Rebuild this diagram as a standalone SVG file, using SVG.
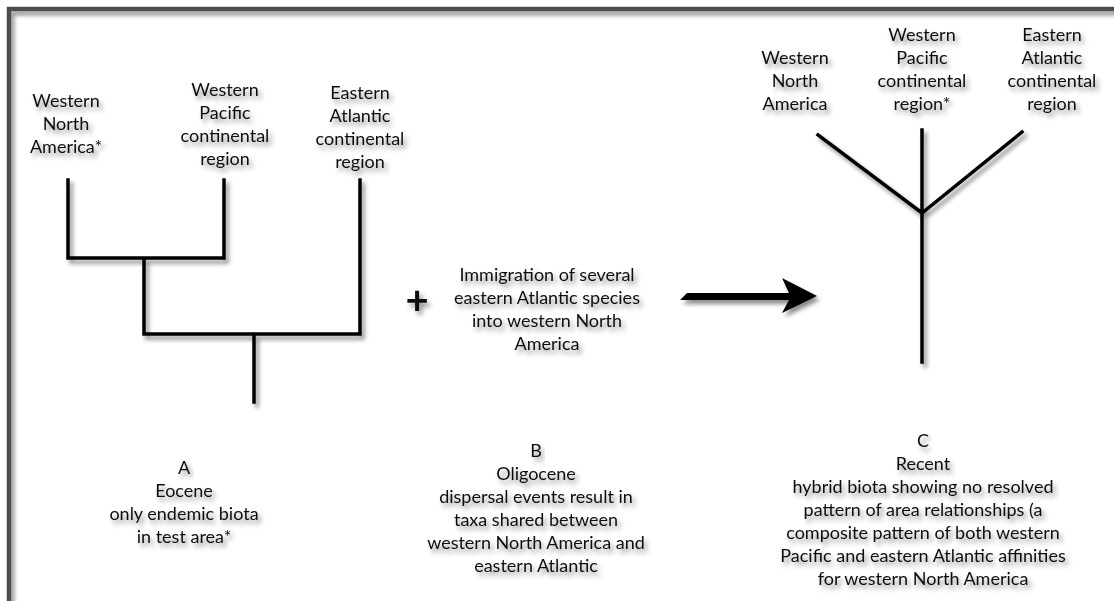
<svg xmlns="http://www.w3.org/2000/svg" width="1114" height="601" viewBox="0 0 1114 601">
<defs>
<filter id="sh" x="-20%" y="-20%" width="140%" height="140%">
<feDropShadow dx="3" dy="4" stdDeviation="2.2" flood-color="#000" flood-opacity="0.45"/>
</filter>
<filter id="tsh" x="-20%" y="-30%" width="140%" height="160%">
<feDropShadow dx="3" dy="4" stdDeviation="2.5" flood-color="#000" flood-opacity="0.45"/>
</filter>
<style>
text{font-family:"Lato","Liberation Sans",sans-serif;font-size:18px;fill:#111;text-anchor:middle;filter:url(#tsh)}
.ln{stroke:#000;stroke-width:3.5;fill:none;stroke-linecap:square}
</style>
</defs>
<rect width="1114" height="601" fill="#fff"/>
<rect id="frame" x="9" y="9" width="1200" height="700" fill="none" stroke="#4d4d4d" stroke-width="4.5" filter="url(#sh)"/>

<g id="connectors" filter="url(#sh)">
<path class="ln" d="M68 180V258H224V180M144 258V334H360V180M254 334V402"/>
<path class="ln" d="M818 135L922 213L1022 132M922 130V362" stroke-linecap="butt"/>
<polygon points="680,300 687,293 789,293 782,278 817,296 782,313 789,300" fill="#000"/>
</g>

<g id="a-wna"><text x="66" y="107">Western</text><text x="66" y="130">North</text><text x="66" y="153">America*</text></g>
<g id="a-wpcr"><text x="225" y="96">Western</text><text x="225" y="119">Pacific</text><text x="225" y="142">continental</text><text x="225" y="165">region</text></g>
<g id="a-eacr"><text x="360" y="99">Eastern</text><text x="360" y="122">Atlantic</text><text x="360" y="145">continental</text><text x="360" y="168">region</text></g>

<g id="plus"><text x="417" y="314" style="font-size:40px;font-weight:bold">+</text></g>
<g id="immigration"><text x="547" y="281">Immigration of several</text><text x="547" y="304">eastern Atlantic species</text><text x="547" y="327">into western North</text><text x="547" y="350">America</text></g>

<g id="c-wna"><text x="795" y="64">Western</text><text x="795" y="87">North</text><text x="795" y="110">America</text></g>
<g id="c-wpcr"><text x="922" y="41">Western</text><text x="922" y="64">Pacific</text><text x="922" y="87">continental</text><text x="922" y="110">region*</text></g>
<g id="c-eacr"><text x="1052" y="41">Eastern</text><text x="1052" y="64">Atlantic</text><text x="1052" y="87">continental</text><text x="1052" y="110">region</text></g>

<g id="caption-a"><text x="184" y="474">A</text><text x="184" y="497">Eocene</text><text x="184" y="520">only endemic biota</text><text x="184" y="543">in test area*</text></g>
<g id="caption-b"><text x="536" y="457">B</text><text x="536" y="480">Oligocene</text><text x="536" y="503">dispersal events result in</text><text x="536" y="526">taxa shared between</text><text x="536" y="549">western North America and</text><text x="536" y="572">eastern Atlantic</text></g>
<g id="caption-c"><text x="923" y="447">C</text><text x="923" y="470">Recent</text><text x="923" y="493">hybrid biota showing no resolved</text><text x="923" y="516">pattern of area relationships (a</text><text x="923" y="539">composite pattern of both western</text><text x="923" y="562">Pacific and eastern Atlantic affinities</text><text x="923" y="585">for western North America</text></g>
</svg>
